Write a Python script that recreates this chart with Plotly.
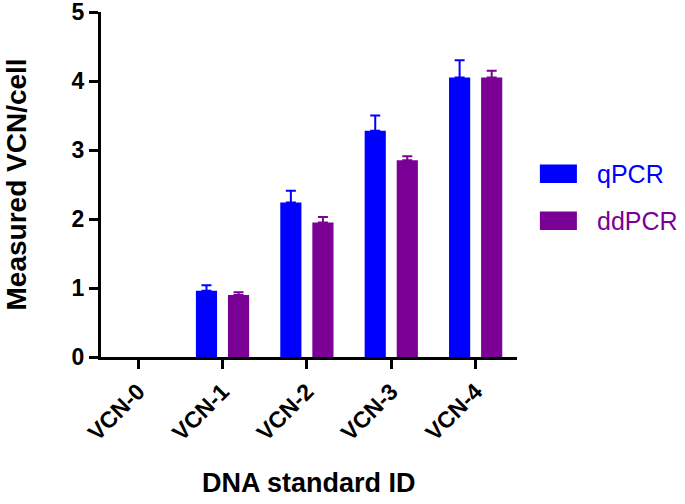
import plotly.graph_objects as go

categories = ["VCN-0", "VCN-1", "VCN-2", "VCN-3", "VCN-4"]
# VCN-0 (negative control) shows no visible bar
qpcr_vals = [None, 0.96, 2.24, 3.28, 4.05]
qpcr_err = [None, 0.08, 0.17, 0.22, 0.25]
ddpcr_vals = [None, 0.90, 1.95, 2.85, 4.05]
ddpcr_err = [None, 0.04, 0.08, 0.06, 0.10]
series_names = ["qPCR", "ddPCR"]
colors = ["#0000FF", "#7A0096"]
y_ticks = [0, 1, 2, 3, 4, 5]
x_title = "DNA standard ID"
y_title = "Measured VCN/cell"

FONT = "Arial, Liberation Sans, sans-serif"

fig = go.Figure()
for name, vals, errs, col in [
    (series_names[0], qpcr_vals, qpcr_err, colors[0]),
    (series_names[1], ddpcr_vals, ddpcr_err, colors[1]),
]:
    fig.add_trace(go.Bar(
        x=categories, y=vals, name=name,
        marker=dict(color=col, line=dict(width=0)),
        error_y=dict(type="data", array=errs,
                     arrayminus=[None if e is None else 0 for e in errs],
                     symmetric=False, color=col, thickness=2, width=5),
        showlegend=False,
    ))

# legend drawn manually (large swatches, coloured text)
for i, (name, col) in enumerate(zip(series_names, colors)):
    yc = 0.531 - i * 0.136
    fig.add_shape(type="rect", xref="paper", yref="paper",
                  x0=1.055, x1=1.144, y0=yc - 0.027, y1=yc + 0.027,
                  fillcolor=col, line=dict(width=0))
    fig.add_annotation(xref="paper", yref="paper", x=1.188, y=yc,
                       text=name, showarrow=False, xanchor="left", yanchor="middle",
                       font=dict(family=FONT, size=25, color=col))

# axis titles
fig.add_annotation(xref="paper", yref="paper", x=-0.202, y=0.5,
                   text=y_title, textangle=-90, showarrow=False,
                   xanchor="center", yanchor="middle",
                   font=dict(family=FONT, size=28, color="black", weight="bold"))
fig.add_annotation(xref="paper", yref="paper", x=0.5, y=-0.365,
                   text=x_title, showarrow=False,
                   xanchor="center", yanchor="middle",
                   font=dict(family=FONT, size=27, color="black", weight="bold"))

fig.update_layout(
    width=685, height=504,
    margin=dict(l=101, r=168, t=12, b=147, autoexpand=False),
    paper_bgcolor="white", plot_bgcolor="white",
    barmode="group", bargap=0.24, bargroupgap=0.34,
    font=dict(family=FONT, color="black"),
)
fig.update_xaxes(
    type="category", categoryorder="array", categoryarray=categories,
    range=[-0.44, 4.49], automargin=False, layer="above traces",
    showline=True, linecolor="black", linewidth=3,
    ticks="outside", ticklen=9, tickwidth=3, tickcolor="black",
    tickangle=-45, ticklabeloverflow="allow",
    tickfont=dict(family=FONT, size=23, color="black", weight="bold"),
    showgrid=False, zeroline=False,
)
fig.update_yaxes(
    range=[0, 5], tickvals=y_ticks, automargin=False, layer="above traces",
    showline=True, linecolor="black", linewidth=3,
    ticks="outside", ticklen=9, tickwidth=3, tickcolor="black",
    ticklabeloverflow="allow",
    tickfont=dict(family=FONT, size=23, color="black", weight="bold"),
    showgrid=False, zeroline=False,
)

fig.write_html("out.html", config={"displayModeBar": False},
               post_script="document.body.style.margin='0';document.body.style.padding='0';")
